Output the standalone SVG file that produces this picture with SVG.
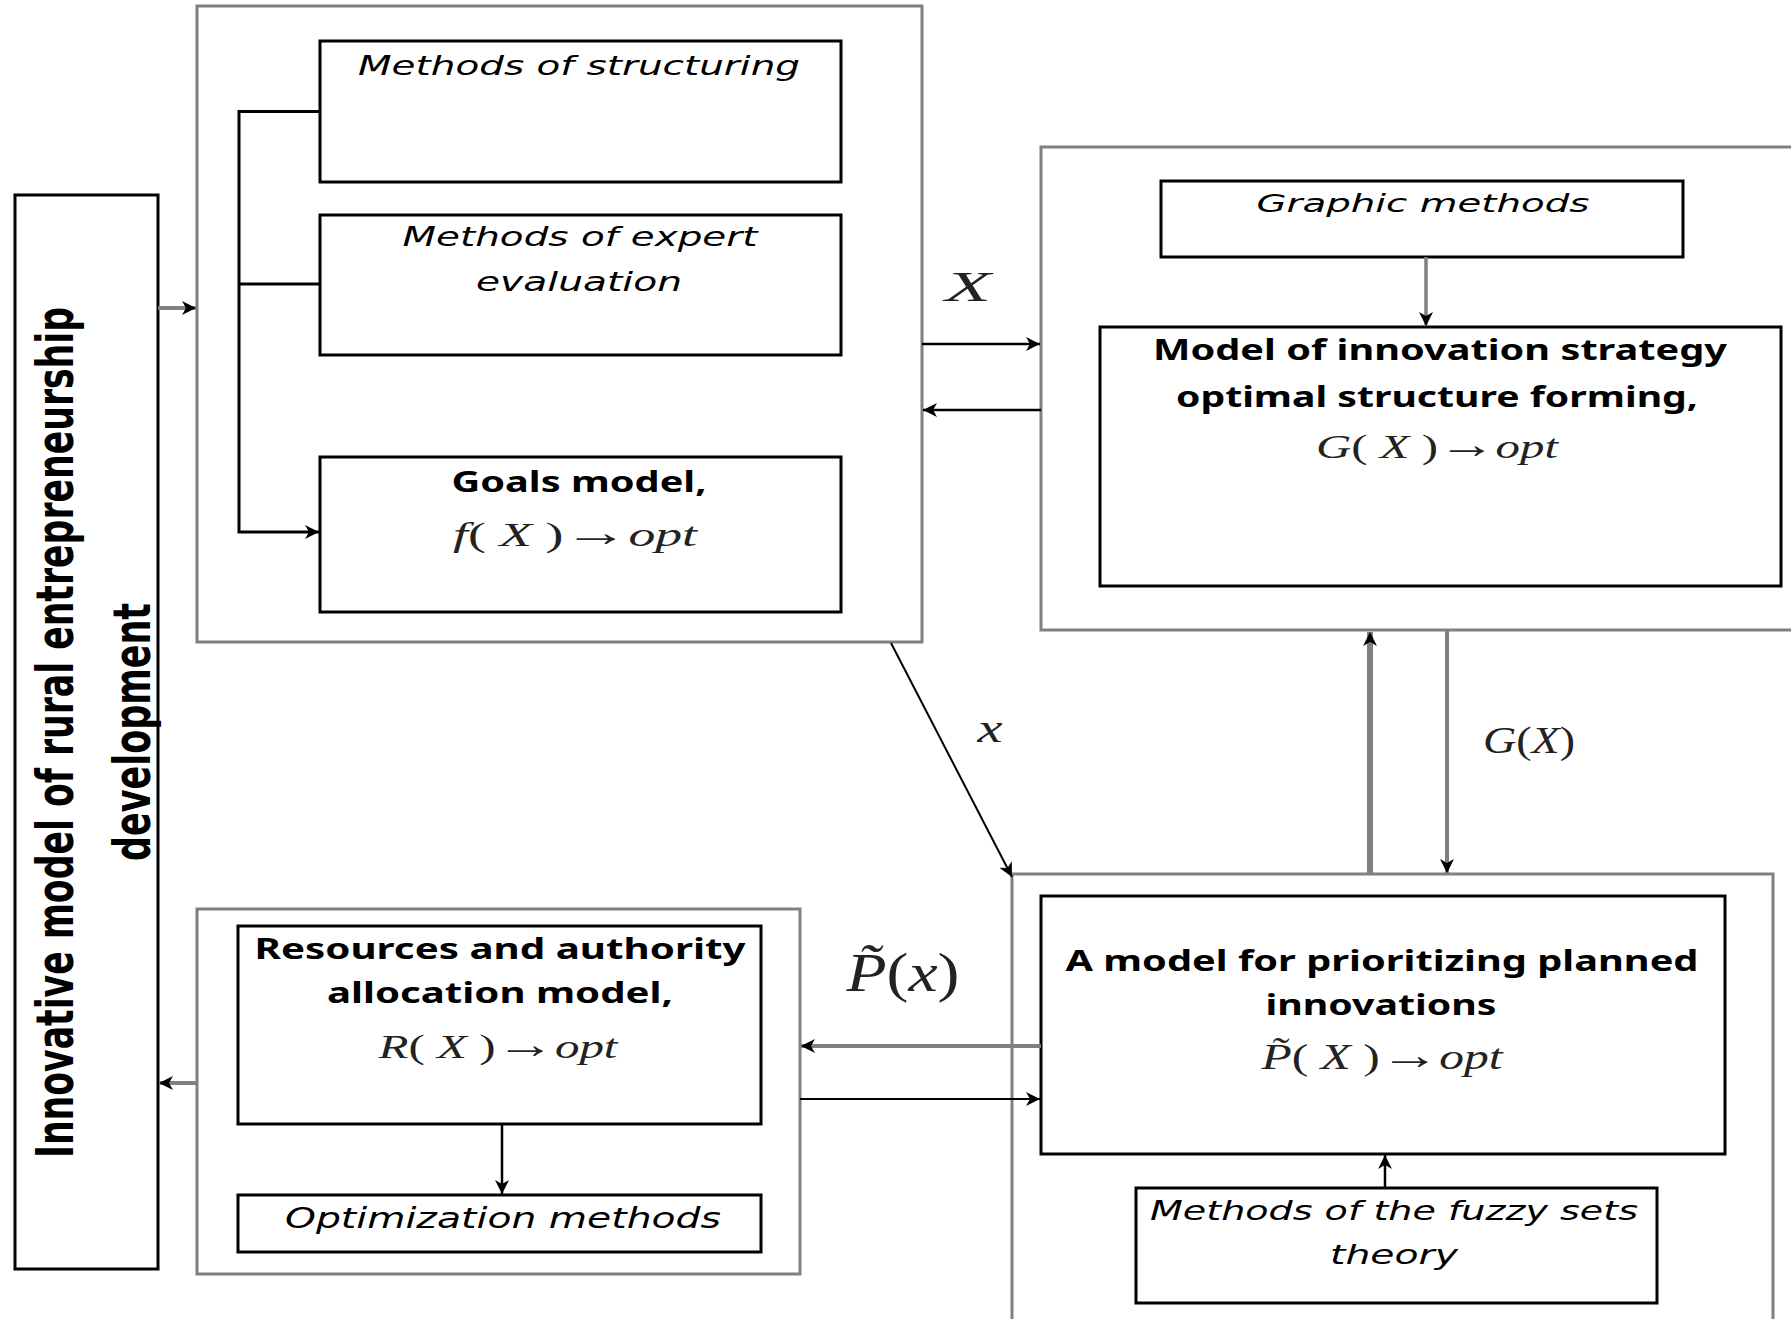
<svg xmlns="http://www.w3.org/2000/svg" width="1791" height="1319" viewBox="0 0 1791 1319">
<style>
.grp{fill:none;stroke:#808080;stroke-width:3}
.box{fill:#fff;stroke:#000;stroke-width:3}
.it{font-family:"DejaVu Sans",sans-serif;font-style:italic;fill:#000;text-anchor:middle}
.bd{font-family:"Noto Sans","DejaVu Sans",sans-serif;font-weight:bold;fill:#000;text-anchor:middle}
.m{font-family:"Liberation Serif",serif;fill:#222;text-anchor:middle}
.mi{font-style:italic}
.rot{font-family:"DejaVu Sans",sans-serif;font-weight:bold;fill:#000;text-anchor:middle}
.cb{fill:none;stroke:#000}
.cg{fill:none;stroke:#808080}
</style>
<defs>
<marker id="ah" markerUnits="userSpaceOnUse" markerWidth="16" markerHeight="16" refX="14" refY="7" orient="auto">
<path d="M0,0 L14,7 L0,14 L4,7 Z" fill="#000"/>
</marker>
</defs>
<rect x="0" y="0" width="1791" height="1319" fill="#fff"/>

<g id="rural-model">
<rect x="15" y="195" width="143" height="1074" class="box" fill="none"/>
<text class="rot" font-size="52" textLength="851" lengthAdjust="spacingAndGlyphs" transform="translate(73,732.5) rotate(-90)">Innovative model of rural entrepreneurship</text>
<text class="rot" font-size="52" textLength="258" lengthAdjust="spacingAndGlyphs" transform="translate(150,732) rotate(-90)">development</text>
</g>

<g id="group-goals">
<rect x="197" y="6" width="725" height="636" class="grp"/>
</g>
<g id="methods-structuring">
<rect x="320" y="41" width="521" height="141" class="box"/>
<text class="it" x="579" y="75" font-size="27" textLength="442" lengthAdjust="spacingAndGlyphs">Methods of structuring</text>
</g>
<g id="methods-expert">
<rect x="320" y="215" width="521" height="140" class="box"/>
<text class="it" x="580" y="246" font-size="27" textLength="355" lengthAdjust="spacingAndGlyphs">Methods of expert</text>
<text class="it" x="579" y="291" font-size="27" textLength="206" lengthAdjust="spacingAndGlyphs">evaluation</text>
</g>
<g id="goals-model">
<rect x="320" y="457" width="521" height="155" class="box"/>
<text class="bd" x="579" y="492" font-size="28" textLength="255" lengthAdjust="spacingAndGlyphs">Goals model,</text>
<text class="m" x="575" y="546" font-size="33" textLength="244" lengthAdjust="spacingAndGlyphs"><tspan class="mi">f</tspan>( <tspan class="mi">X</tspan> )<tspan font-size="40">→</tspan><tspan class="mi">opt</tspan></text>
</g>

<g id="group-structure">
<rect x="1041" y="147" width="800" height="483" class="grp"/>
</g>
<g id="graphic-methods">
<rect x="1161" y="181" width="522" height="76" class="box"/>
<text class="it" x="1423" y="212" font-size="25" textLength="333" lengthAdjust="spacingAndGlyphs">Graphic methods</text>
</g>
<g id="structure-model">
<rect x="1100" y="327" width="681" height="259" class="box"/>
<text class="bd" x="1440" y="360" font-size="29" textLength="574" lengthAdjust="spacingAndGlyphs">Model of innovation strategy</text>
<text class="bd" x="1437" y="407" font-size="29" textLength="522" lengthAdjust="spacingAndGlyphs">optimal structure forming,</text>
<text class="m" x="1437" y="458" font-size="34" textLength="242" lengthAdjust="spacingAndGlyphs"><tspan class="mi">G</tspan>( <tspan class="mi">X</tspan> )<tspan font-size="40">→</tspan><tspan class="mi">opt</tspan></text>
</g>

<g id="group-priority">
<rect x="1012" y="874" width="761" height="500" class="grp"/>
</g>
<g id="priority-model">
<rect x="1041" y="896" width="684" height="258" class="box"/>
<text class="bd" x="1382" y="971" font-size="28" textLength="633" lengthAdjust="spacingAndGlyphs">A model for prioritizing planned</text>
<text class="bd" x="1381" y="1015" font-size="28" textLength="231" lengthAdjust="spacingAndGlyphs">innovations</text>
<text class="m" x="1382" y="1069" font-size="35" textLength="241" lengthAdjust="spacingAndGlyphs"><tspan class="mi">P̃</tspan>( <tspan class="mi">X</tspan> )<tspan font-size="42">→</tspan><tspan class="mi">opt</tspan></text>
</g>
<g id="fuzzy-methods">
<rect x="1136" y="1188" width="521" height="115" class="box"/>
<text class="it" x="1394" y="1220" font-size="27" textLength="488" lengthAdjust="spacingAndGlyphs">Methods of the fuzzy sets</text>
<text class="it" x="1394" y="1264" font-size="27" textLength="128" lengthAdjust="spacingAndGlyphs">theory</text>
</g>

<g id="group-resources">
<rect x="197" y="909" width="603" height="365" class="grp"/>
</g>
<g id="resources-model">
<rect x="238" y="926" width="523" height="198" class="box"/>
<text class="bd" x="500" y="959" font-size="28" textLength="491" lengthAdjust="spacingAndGlyphs">Resources and authority</text>
<text class="bd" x="500" y="1003" font-size="28" textLength="346" lengthAdjust="spacingAndGlyphs">allocation model,</text>
<text class="m" x="498" y="1058" font-size="33" textLength="239" lengthAdjust="spacingAndGlyphs"><tspan class="mi">R</tspan>( <tspan class="mi">X</tspan> )<tspan font-size="40">→</tspan><tspan class="mi">opt</tspan></text>
</g>
<g id="optimization-methods">
<rect x="238" y="1195" width="523" height="57" class="box"/>
<text class="it" x="503" y="1228" font-size="28" textLength="436" lengthAdjust="spacingAndGlyphs">Optimization methods</text>
</g>

<g id="connectors">
<path class="cg" stroke-width="4" d="M158,308 H196" marker-end="url(#ah)"/>
<path class="cb" stroke-width="3" d="M320,111.5 H239 V532 H319" marker-end="url(#ah)"/>
<path class="cb" stroke-width="3" d="M239,284 H320"/>
<path class="cb" stroke-width="2.5" d="M922,344 H1040" marker-end="url(#ah)"/>
<path class="cb" stroke-width="2.5" d="M1041,410 H923" marker-end="url(#ah)"/>
<path class="cg" stroke-width="3.5" d="M1426,257 V326" marker-end="url(#ah)"/>
<path class="cb" stroke-width="2" d="M891,643 L1012,877" marker-end="url(#ah)"/>
<path class="cg" stroke-width="6" d="M1370,874 V632" marker-end="url(#ah)"/>
<path class="cg" stroke-width="4" d="M1447,631 V873" marker-end="url(#ah)"/>
<path class="cg" stroke-width="4" d="M1041,1046 H801" marker-end="url(#ah)"/>
<path class="cb" stroke-width="2" d="M800,1099 H1040" marker-end="url(#ah)"/>
<path class="cb" stroke-width="2.5" d="M502,1124 V1194" marker-end="url(#ah)"/>
<path class="cb" stroke-width="2.5" d="M1385,1187 V1155" marker-end="url(#ah)"/>
<path class="cg" stroke-width="4" d="M197,1083 H159" marker-end="url(#ah)"/>
<text class="m mi" x="968" y="301" font-size="42" fill="#333" textLength="46" lengthAdjust="spacingAndGlyphs">X</text>
<text class="m mi" x="990" y="742" font-size="40" textLength="25" lengthAdjust="spacingAndGlyphs">x</text>
<text class="m" x="1529" y="753" font-size="38" textLength="92" lengthAdjust="spacingAndGlyphs"><tspan class="mi">G</tspan>(<tspan class="mi">X</tspan>)</text>
<text class="m" x="903" y="991" font-size="54" textLength="113" lengthAdjust="spacingAndGlyphs"><tspan class="mi">P̃</tspan>(<tspan class="mi">x</tspan>)</text>
</g>
</svg>
